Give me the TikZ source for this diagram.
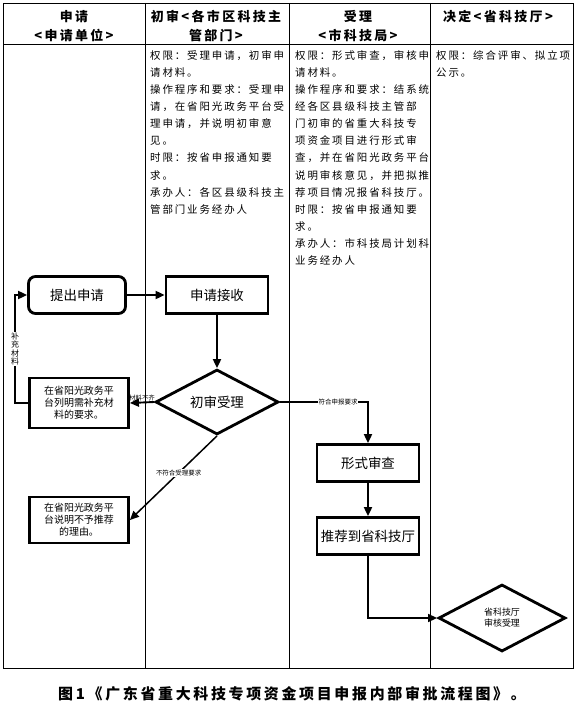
\documentclass[tikz,border=0pt]{standalone}
\usepackage{fontspec}
\setmainfont{Noto Sans CJK SC}
\newfontfamily\spaced{Noto Sans CJK SC}[LetterSpace=18]
\usetikzlibrary{shapes.geometric,arrows.meta}

\begin{document}
\begin{tikzpicture}[x=1bp,y=-1bp,
    tableline/.style={line width=0.8bp},
    head/.style={font=\spaced\bfseries\fontsize{13}{19}\selectfont,align=center,inner sep=0},
    coltext/.style={anchor=north west,inner sep=0,align=left,font=\spaced\fontsize{10.5}{17.2}\selectfont},
    stepbox/.style={draw,line width=2.8bp,minimum width=102bp,minimum height=37bp,font=\fontsize{13.5}{15}\selectfont},
    notebox/.style={draw,line width=2.8bp,minimum width=99bp,align=center,font=\fontsize{10}{12}\selectfont},
    decision/.style={draw,diamond,line width=2.8bp,inner sep=0,aspect=1.9},
    arr/.style={-{Triangle[length=9bp,width=8bp]},line width=1.9bp},
    lbl/.style={fill=white,inner sep=1bp,font=\fontsize{6.5}{7}\selectfont}]

      % Bounding box
      \path (0,0) rectangle (580,716);

      % table
      \draw[tableline] (3,3) rectangle (573,668);
      \draw[tableline] (3,44) -- (573,44);
      \foreach \x in {145,289,430}
        \draw[tableline] (\x,3) -- (\x,668);

      \draw (74,26) node[head] (col1) {申请\\<申请单位>};
      \draw (216,26) node[head] (col2) {初审<各市区科技主\\管部门>};
      \draw (358,26) node[head] (col3) {受理\\<市科技局>};
      \draw (498,17) node[head] (col4) {决定<省科技厅>};

      \draw (150,50) node[coltext] (duty2) {权限：受理申请，初审申\\请材料。\\操作程序和要求：受理申\\请，在省阳光政务平台受\\理申请，并说明初审意\\见。\\时限：按省申报通知要\\求。\\承办人：各区县级科技主\\管部门业务经办人};
      \draw (295,50) node[coltext] (duty3) {权限：形式审查，审核申\\请材料。\\操作程序和要求：结系统\\经各区县级科技主管部\\门初审的省重大科技专\\项资金项目进行形式审\\查，并在省阳光政务平台\\说明审核意见，并把拟推\\荐项目情况报省科技厅。\\时限：按省申报通知要\\求。\\承办人：市科技局计划科\\业务经办人};
      \draw (436,50) node[coltext] (duty4) {权限：综合评审、拟立项\\公示。};

      % flow
      \draw (77,295) node[stepbox,rounded corners=7bp,minimum width=97bp] (apply) {提出申请};
      \draw (217,295) node[stepbox] (receive) {申请接收};
      \draw (217,402) node[decision,minimum width=123bp,minimum height=65bp,font=\fontsize{13.5}{15}\selectfont] (first) {初审受理};
      \draw (79,403) node[notebox,minimum height=50bp] (need) {在省阳光政务平\\台列明需补充材\\料的要求。};
      \draw (79,520) node[notebox,minimum height=46bp] (refuse) {在省阳光政务平\\台说明不予推荐\\的理由。};
      \draw (368,463) node[stepbox] (form) {形式审查};
      \draw (368,536) node[stepbox] (recommend) {推荐到省科技厅};
      \draw (502,618) node[decision,minimum width=127bp,minimum height=67bp,align=center,font=\fontsize{9}{11}\selectfont] (decide) {省科技厅\\审核受理};

      \draw [arr] (apply) -- (receive);
      \draw [arr] (receive) -- (first);
      \draw [arr] (first.west) -- (need.east) node [midway,above,lbl,fill=none] {材料不齐};
      \draw [arr] (need.west) -- +(-13,0) |- node [pos=0.25,lbl,align=center,font=\fontsize{8}{8.5}\selectfont] {补\\充\\材\\料} (apply.west);
      \draw [arr,line width=1.5bp] (first.south) -- (refuse.east) node [pos=0.44,lbl] {不符合受理要求};
      \draw [arr] (first.east) -| node [pos=0.33,lbl] {符合申报要求} (form.north);
      \draw [arr] (form) -- (recommend);
      \draw [arr,line width=1.5bp] (recommend.south) |- (decide.west);

      \draw (292,694) node[font=\spaced\bfseries\fontsize{15}{17}\selectfont] (caption) {图1《广东省重大科技专项资金项目申报内部审批流程图》。};
    \end{tikzpicture}
\end{document}
